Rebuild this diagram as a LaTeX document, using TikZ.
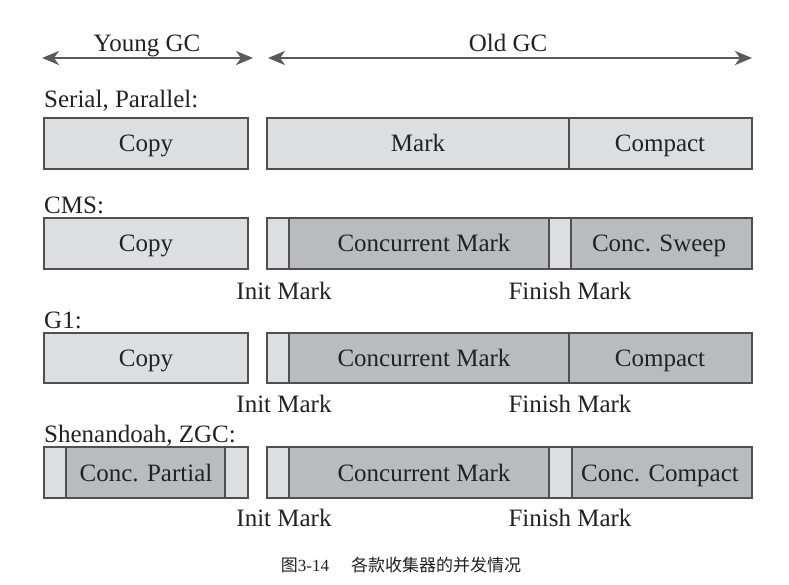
\documentclass[tikz,border=0pt]{standalone}
\usepackage{fontspec}
\setmainfont{Liberation Serif}
\newfontfamily\cjk{Noto Sans CJK SC}
\usetikzlibrary{arrows.meta}
\definecolor{lightfill}{HTML}{DCDEE0}
\definecolor{darkfill}{HTML}{B9BCBE}
\definecolor{edgegray}{HTML}{505050}
\definecolor{ink}{HTML}{222222}
\definecolor{arrowgray}{HTML}{5A5A5A}
\begin{document}
\begin{tikzpicture}[x=1pt,y=-1pt,
  seg/.style={draw=edgegray, line width=1.3pt},
  lt/.style={seg, fill=lightfill},
  dk/.style={seg, fill=darkfill},
  txt/.style={font=\fontsize{25}{30}\selectfont, text=ink, inner sep=0pt, anchor=base},
  head/.style={txt, anchor=base west},
  span/.style={draw=arrowgray, line width=2.2pt, {Stealth[length=17pt,width=14pt,inset=5pt]}-{Stealth[length=17pt,width=14pt,inset=5pt]}}
]
\useasboundingbox (0,0) rectangle (789,584);

% top arrows
\coordinate (yl) at (42,58);
\coordinate (yr) at (253,58);
\coordinate (ol) at (268,58);
\coordinate (orr) at (752,58);
\draw[span] (yl) -- (yr);
\draw[span] (ol) -- (orr);
\node[txt] (young) at (147,51) {Young GC};
\node[txt] (old) at (508,51) {Old GC};

% row 1: Serial, Parallel
\node[head] (h1) at (44,107) {Serial, Parallel:};
\draw[lt] (44,118) rectangle (248,169);
\draw[lt] (267,118) rectangle (569,169);
\draw[lt] (569,118) rectangle (752,169);
\node[txt] (c1) at (146,151) {Copy};
\node[txt] (m1) at (418,151) {Mark};
\node[txt] (p1) at (660,151) {Compact};

% row 2: CMS
\node[head] (h2) at (44,213) {CMS:};
\draw[lt] (44,218) rectangle (248,269);
\draw[lt] (267,218) rectangle (289,269);
\draw[dk] (289,218) rectangle (549,269);
\draw[lt] (549,218) rectangle (571,269);
\draw[dk] (571,218) rectangle (752,269);
\node[txt] (c2) at (146,251) {Copy};
\node[txt] (m2) at (424,251) {Concurrent Mark};
\node[txt] (s2) at (659,251) {Conc. Sweep};
\node[txt] (i2) at (284,299) {Init Mark};
\node[txt] (f2) at (570,299) {Finish Mark};

% row 3: G1
\node[head] (h3) at (44,328) {G1:};
\draw[lt] (44,333) rectangle (248,383);
\draw[lt] (267,333) rectangle (289,383);
\draw[dk] (289,333) rectangle (569,383);
\draw[dk] (569,333) rectangle (752,383);
\node[txt] (c3) at (146,366) {Copy};
\node[txt] (m3) at (424,366) {Concurrent Mark};
\node[txt] (p3) at (660,366) {Compact};
\node[txt] (i3) at (284,412) {Init Mark};
\node[txt] (f3) at (570,412) {Finish Mark};

% row 4: Shenandoah, ZGC
\node[head] (h4) at (44,442) {Shenandoah, ZGC:};
\draw[lt] (44,447) rectangle (66,498);
\draw[dk] (66,447) rectangle (225,498);
\draw[lt] (225,447) rectangle (248,498);
\draw[lt] (267,447) rectangle (289,498);
\draw[dk] (289,447) rectangle (549,498);
\draw[lt] (549,447) rectangle (572,498);
\draw[dk] (572,447) rectangle (752,498);
\node[txt] (c4) at (146,481) {Conc. Partial};
\node[txt] (m4) at (424,481) {Concurrent Mark};
\node[txt] (p4) at (660,481) {Conc. Compact};
\node[txt] (i4) at (284,526) {Init Mark};
\node[txt] (f4) at (570,526) {Finish Mark};

% caption
\node[inner sep=0pt, text=ink, anchor=base, font=\fontsize{17}{20}\selectfont] (cap) at (401,571)
  {{\cjk 图}3-14\hspace{22pt}{\cjk 各款收集器的并发情况}};
\end{tikzpicture}
\end{document}
